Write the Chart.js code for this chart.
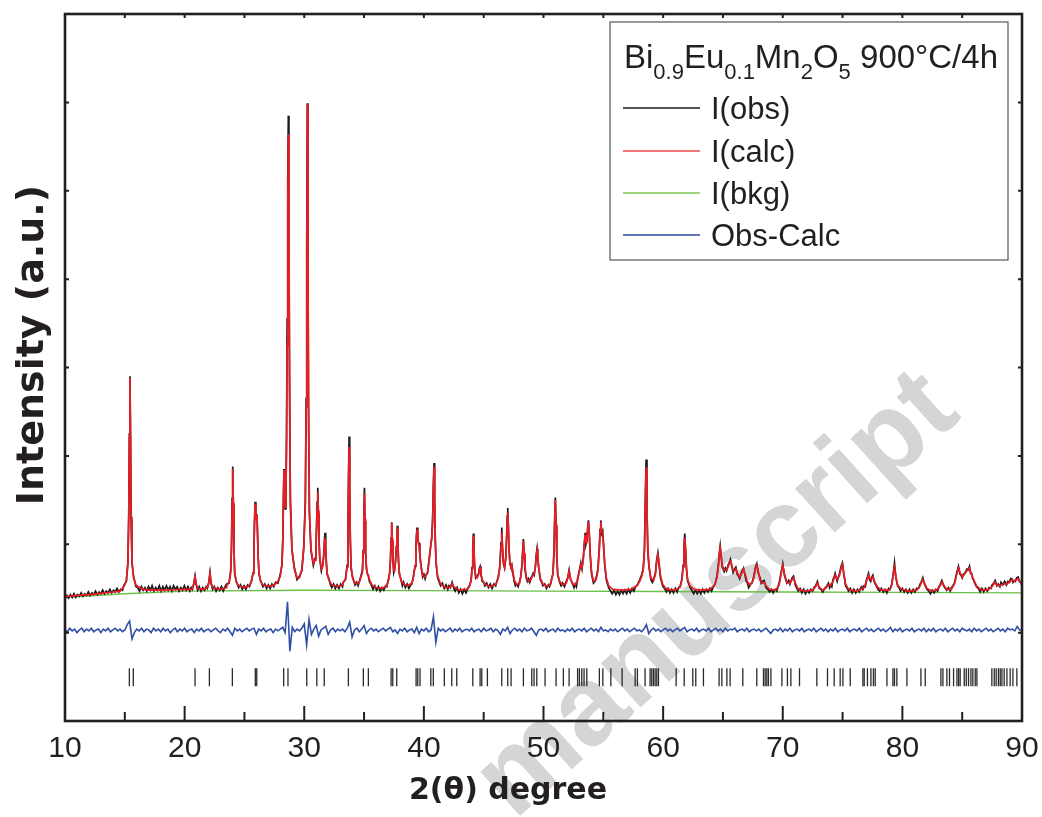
<!DOCTYPE html>
<html>
<head>
<meta charset="utf-8">
<script src="https://cdn.jsdelivr.net/npm/chart.js@4.4.1/dist/chart.umd.min.js"></script>
<style>
  html, body { margin: 0; padding: 0; background: #fff; }
  canvas { display: block; }
</style>
</head>
<body>
<canvas id="xrdChart" width="1042" height="817"></canvas>
<script>
// observed pattern, [2theta, intensity a.u.]
const obsPts = [
  [10,1.38],[10.15,1.42],[10.3,1.39],[10.45,1.43],[10.6,1.40],[10.75,1.44],[10.9,1.40],[11.05,1.43],[11.2,1.41],[11.35,1.45],
  [11.5,1.41],[11.65,1.44],[11.8,1.42],[11.95,1.46],[12.1,1.42],[12.25,1.45],[12.4,1.43],[12.55,1.47],[12.7,1.43],[12.85,1.46],
  [13.0,1.44],[13.15,1.48],[13.3,1.44],[13.45,1.47],[13.6,1.45],[13.75,1.49],[13.9,1.45],[14.05,1.48],[14.2,1.46],[14.35,1.50],
  [14.5,1.46],[14.65,1.49],[14.8,1.48],
  [14.93,1.54],[15.13,1.58],[15.26,1.80],[15.33,2.33],[15.38,3.25],[15.43,3.90],[15.48,3.18],[15.53,2.28],[15.60,1.79],[15.73,1.64],[15.93,1.52],
  [16.08,1.51],[16.23,1.47],[16.38,1.52],[16.53,1.48],[16.68,1.51],[16.83,1.47],[16.98,1.52],[17.13,1.48],[17.28,1.53],[17.43,1.47],
  [17.58,1.51],[17.73,1.48],[17.88,1.53],[18.03,1.47],[18.18,1.52],[18.33,1.48],[18.48,1.53],[18.63,1.48],[18.78,1.52],[18.93,1.47],
  [19.08,1.53],[19.23,1.49],[19.38,1.52],[19.53,1.47],[19.68,1.51],[19.83,1.48],[19.98,1.53],[20.13,1.48],[20.28,1.52],[20.43,1.47],[20.55,1.51],
  [20.65,1.49],[20.77,1.56],[20.87,1.64],[20.97,1.54],[21.09,1.48],
  [21.22,1.52],[21.37,1.47],[21.52,1.51],[21.67,1.48],[21.8,1.52],
  [21.9,1.50],[22.02,1.57],[22.12,1.68],[22.22,1.55],[22.34,1.49],
  [22.48,1.52],[22.63,1.47],[22.78,1.51],[22.93,1.48],[23.08,1.52],[23.23,1.47],[23.38,1.52],
  [23.52,1.55],[23.72,1.56],[23.85,1.70],[23.92,1.99],[23.97,2.52],[24.02,2.88],[24.07,2.45],[24.12,1.95],[24.19,1.66],[24.32,1.58],[24.52,1.51],
  [24.67,1.54],[24.82,1.49],[24.97,1.53],[25.12,1.49],[25.27,1.54],[25.42,1.52],
  [25.59,1.59],[25.72,1.67],[25.79,1.92],[25.84,2.24],[25.89,2.48],[25.95,2.30],[26.0,2.29],[26.05,2.34],[26.1,2.08],[26.15,1.84],
  [26.22,1.66],[26.35,1.59],[26.55,1.52],
  [26.7,1.55],[26.85,1.50],[27.0,1.54],[27.15,1.50],[27.3,1.55],[27.45,1.52],[27.6,1.57],[27.8,1.56],
  [28.0,1.66],[28.14,1.77],[28.21,2.07],[28.26,2.52],[28.31,2.85],[28.36,2.60],[28.41,2.40],[28.47,2.58],[28.52,3.25],[28.57,4.55],
  [28.62,6.10],[28.67,6.85],[28.72,5.45],[28.77,3.75],[28.84,2.45],[28.97,1.93],[29.17,1.74],[29.4,1.60],[29.6,1.64],
  [29.8,1.70],[29.96,1.97],[30.09,2.50],[30.16,3.65],[30.21,5.45],[30.26,6.99],[30.31,5.15],[30.36,3.45],[30.43,2.35],[30.56,1.93],
  [30.76,1.76],[30.9,1.84],
  [30.98,1.97],[31.03,2.22],[31.08,2.48],[31.13,2.64],[31.18,2.35],[31.23,2.05],[31.3,1.83],[31.43,1.70],[31.56,1.78],[31.64,1.91],
  [31.69,2.05],[31.74,2.13],[31.79,1.96],[31.84,1.80],[31.91,1.66],[32.04,1.62],[32.17,1.55],[32.3,1.51],[32.45,1.55],[32.6,1.50],
  [32.75,1.54],[32.9,1.50],[33.05,1.55],[33.2,1.52],
  [33.25,1.57],[33.45,1.60],[33.58,1.76],[33.65,2.12],[33.7,2.76],[33.75,3.22],[33.8,2.62],[33.85,2.04],[33.92,1.72],[34.05,1.62],
  [34.25,1.54],[34.38,1.57],[34.5,1.53],
  [34.63,1.59],[34.86,1.70],[34.93,1.93],[34.98,2.34],[35.03,2.64],[35.08,2.26],[35.13,1.90],[35.2,1.72],[35.28,1.67],[35.36,1.64],
  [35.45,1.58],[35.6,1.54],[35.75,1.49],[35.9,1.53],[36.05,1.48],[36.2,1.52],[36.35,1.47],[36.5,1.51],[36.65,1.48],[36.8,1.53],[36.9,1.52],
  [37.06,1.62],[37.14,1.67],[37.21,1.84],[37.26,2.07],[37.31,2.25],[37.36,2.04],[37.41,1.82],[37.48,1.68],[37.56,1.72],[37.63,1.81],
  [37.7,1.98],[37.74,2.10],[37.78,2.21],[37.83,2.01],[37.88,1.80],[37.95,1.66],[38.1,1.60],[38.2,1.53],[38.3,1.57],[38.45,1.51],
  [38.6,1.55],[38.75,1.50],[38.9,1.54],[39.0,1.55],
  [39.15,1.66],[39.26,1.75],[39.33,1.95],[39.38,2.10],[39.43,2.19],[39.49,2.06],[39.55,2.02],[39.6,2.01],[39.66,1.88],[39.75,1.77],
  [39.9,1.63],[40.0,1.66],[40.1,1.61],[40.2,1.66],[40.3,1.67],[40.42,1.81],[40.5,1.89],[40.58,2.00],[40.66,2.08],[40.73,2.28],
  [40.79,2.66],[40.85,2.92],[40.9,2.50],[40.95,2.05],[41.02,1.78],[41.15,1.62],[41.28,1.57],[41.4,1.53],[41.55,1.56],[41.7,1.50],
  [41.85,1.54],[42.0,1.49],[42.1,1.53],
  [42.22,1.51],[42.36,1.57],[42.5,1.50],
  [42.62,1.47],[42.77,1.51],[42.92,1.45],[43.07,1.49],[43.22,1.44],[43.37,1.49],[43.52,1.45],[43.67,1.50],
  [43.8,1.52],[43.95,1.60],[44.03,1.74],[44.09,1.96],[44.14,2.12],[44.19,1.92],[44.25,1.72],[44.33,1.62],[44.45,1.64],[44.58,1.67],
  [44.64,1.73],[44.7,1.75],[44.77,1.66],[44.88,1.58],[45.0,1.57],[45.1,1.53],[45.25,1.56],[45.4,1.51],[45.55,1.55],[45.7,1.50],
  [45.85,1.55],[46.0,1.53],[46.1,1.58],
  [46.22,1.63],[46.34,1.73],[46.45,2.02],[46.51,2.19],[46.57,1.96],[46.65,1.78],[46.75,1.73],[46.85,1.86],[46.93,2.14],[46.97,2.32],
  [47.01,2.41],[47.06,2.20],[47.12,1.93],[47.2,1.77],[47.28,1.75],[47.35,1.77],[47.43,1.68],[47.55,1.58],[47.65,1.53],[47.75,1.55],
  [47.88,1.52],[48.0,1.58],
  [48.1,1.63],[48.2,1.77],[48.26,1.92],[48.32,2.06],[48.38,1.88],[48.45,1.72],[48.56,1.62],[48.65,1.58],[48.75,1.61],[48.85,1.57],
  [48.95,1.62],[49.05,1.64],[49.13,1.67],[49.22,1.65],[49.32,1.75],[49.4,1.89],[49.46,1.95],[49.52,1.84],[49.6,1.73],[49.73,1.60],
  [49.85,1.57],[49.95,1.53],[50.1,1.55],[50.25,1.50],[50.4,1.54],[50.5,1.52],[50.6,1.56],
  [50.63,1.58],[50.79,1.67],[50.87,1.90],[50.93,2.27],[50.99,2.53],[51.05,2.20],[51.11,1.85],[51.19,1.65],[51.35,1.57],[51.47,1.53],
  [51.6,1.56],[51.75,1.52],
  [51.9,1.58],[52.02,1.62],[52.14,1.71],[52.26,1.60],[52.42,1.56],[52.55,1.51],[52.65,1.55],[52.75,1.52],[52.85,1.61],[52.98,1.69],
  [53.12,1.79],[53.22,1.72],[53.32,1.84],[53.41,2.00],[53.48,2.13],[53.55,2.00],[53.62,2.04],[53.69,2.18],[53.76,2.27],[53.83,2.10],
  [53.91,1.86],[54.02,1.66],[54.18,1.56],[54.3,1.58],[54.4,1.62],[54.55,1.72],[54.66,1.95],[54.73,2.17],[54.79,2.27],[54.86,2.12],
  [54.95,2.15],[55.03,1.96],[55.12,1.76],[55.25,1.60],[55.35,1.55],[55.45,1.51],[55.6,1.47],[55.75,1.44],[55.9,1.48],[56.05,1.43],
  [56.2,1.47],[56.35,1.43],[56.5,1.48],[56.65,1.44],[56.8,1.48],[56.95,1.44],[57.1,1.49],[57.25,1.45],[57.4,1.50],[57.55,1.47],
  [57.7,1.52],[57.85,1.54],[57.95,1.57],
  [58.05,1.60],[58.22,1.66],[58.34,1.73],[58.44,1.95],[58.51,2.52],[58.58,2.96],[58.65,2.35],[58.72,1.92],[58.82,1.74],[58.98,1.60],
  [59.1,1.57],[59.2,1.60],[59.36,1.68],[59.46,1.82],[59.56,1.90],[59.66,1.77],[59.78,1.62],[59.9,1.56],[59.98,1.52],[60.12,1.50],
  [60.27,1.46],[60.42,1.50],[60.57,1.45],[60.72,1.49],[60.87,1.45],[61.02,1.50],[61.17,1.46],[61.3,1.51],[61.45,1.53],
  [61.58,1.62],[61.67,1.76],[61.74,1.98],[61.81,2.12],[61.88,1.92],[61.95,1.72],[62.05,1.58],[62.15,1.55],[62.25,1.51],[62.4,1.48],
  [62.55,1.44],[62.7,1.48],[62.85,1.44],[63.0,1.48],[63.15,1.44],[63.3,1.49],[63.45,1.45],[63.6,1.49],[63.75,1.46],[63.9,1.50],
  [64.05,1.47],[64.2,1.52],[64.35,1.55],
  [64.5,1.64],[64.63,1.78],[64.7,1.90],[64.77,1.98],[64.85,1.86],[64.95,1.74],[65.1,1.69],[65.2,1.73],[65.3,1.70],[65.45,1.77],
  [65.55,1.80],[65.63,1.83],[65.72,1.76],[65.85,1.68],[65.98,1.72],[66.08,1.74],[66.2,1.66],[66.3,1.64],[66.4,1.61],[66.5,1.66],
  [66.58,1.69],[66.72,1.73],[66.86,1.64],[66.95,1.58],[67.05,1.56],[67.15,1.51],[67.3,1.55],[67.42,1.56],[67.55,1.62],[67.72,1.74],
  [67.83,1.78],[67.94,1.68],[68.1,1.62],[68.2,1.56],[68.3,1.58],[68.44,1.59],[68.6,1.51],[68.75,1.49],[68.9,1.46],[69.05,1.49],
  [69.2,1.45],[69.35,1.49],[69.5,1.47],[69.6,1.52],[69.7,1.56],
  [69.85,1.67],[70.0,1.78],[70.15,1.64],[70.25,1.60],[70.35,1.56],[70.5,1.59],[70.6,1.55],[70.78,1.62],[70.9,1.64],[71.05,1.54],
  [71.15,1.51],[71.3,1.47],[71.45,1.50],[71.6,1.45],[71.75,1.49],[71.9,1.44],[72.05,1.48],[72.2,1.45],[72.35,1.49],[72.5,1.47],
  [72.62,1.51],[72.75,1.53],[72.9,1.58],[73.05,1.50],[73.2,1.49],[73.35,1.46],[73.5,1.50],[73.65,1.52],[73.82,1.56],[73.92,1.51],
  [74.0,1.54],[74.1,1.52],[74.2,1.60],[74.3,1.63],[74.38,1.67],[74.47,1.62],[74.55,1.58],[74.65,1.63],[74.75,1.67],[74.88,1.75],
  [74.99,1.79],[75.1,1.66],[75.18,1.60],[75.25,1.53],[75.35,1.51],[75.5,1.47],[75.65,1.50],[75.8,1.45],[75.95,1.49],[76.1,1.45],
  [76.25,1.49],[76.4,1.46],[76.5,1.50],[76.61,1.52],[76.7,1.49],[76.8,1.53],[76.9,1.52],[77.0,1.60],[77.08,1.63],[77.17,1.67],
  [77.26,1.60],[77.35,1.58],[77.45,1.63],[77.53,1.65],[77.62,1.59],[77.7,1.56],[77.82,1.53],[77.95,1.49],[78.1,1.47],[78.25,1.50],
  [78.4,1.46],[78.55,1.49],[78.7,1.45],[78.85,1.50],[78.97,1.49],[79.1,1.54],[79.24,1.67],[79.34,1.79],[79.45,1.63],[79.6,1.53],
  [79.72,1.51],[79.85,1.47],[80.0,1.50],[80.15,1.46],[80.3,1.49],[80.45,1.45],[80.6,1.49],[80.75,1.45],[80.9,1.49],[81.05,1.46],
  [81.2,1.50],[81.35,1.50],[81.45,1.54],[81.6,1.58],[81.71,1.62],[81.85,1.55],[81.95,1.52],[82.05,1.49],[82.2,1.47],[82.35,1.44],
  [82.5,1.48],[82.65,1.45],[82.8,1.49],[82.95,1.47],[83.05,1.52],[83.15,1.54],[83.3,1.59],[83.45,1.53],[83.6,1.50],[83.7,1.48],
  [83.85,1.51],[84.0,1.47],[84.1,1.51],[84.22,1.53],[84.35,1.56],[84.45,1.62],[84.55,1.68],[84.69,1.75],[84.82,1.66],[84.9,1.65],
  [85.0,1.62],[85.1,1.66],[85.2,1.67],[85.3,1.69],[85.4,1.72],[85.5,1.71],[85.61,1.75],[85.7,1.67],[85.78,1.67],[85.88,1.61],
  [85.95,1.60],[86.05,1.56],[86.2,1.52],[86.35,1.50],[86.5,1.46],[86.65,1.50],[86.8,1.46],[86.95,1.50],[87.1,1.47],[87.25,1.51],
  [87.4,1.50],[87.5,1.54],[87.65,1.56],[87.76,1.59],[87.9,1.53],[88.0,1.55],[88.15,1.52],[88.25,1.57],[88.4,1.54],[88.55,1.58],
  [88.7,1.54],[88.82,1.58],[88.95,1.57],[89.05,1.61],[89.15,1.61],[89.25,1.57],[89.35,1.59],[89.45,1.58],[89.55,1.62],[89.68,1.63],
  [89.78,1.58],[89.88,1.57],[90,1.53]
];

// calculated (Rietveld fit)
const calcPts = [
  [10,1.41],[11,1.42],[12,1.43],[13,1.445],[14,1.46],[14.6,1.47],
  [14.93,1.52],[15.13,1.59],[15.26,1.78],[15.33,2.31],[15.38,3.21],[15.43,3.88],[15.48,3.21],[15.53,2.31],[15.60,1.80],[15.73,1.62],
  [15.93,1.54],[16.3,1.50],[17,1.48],[18,1.48],[19,1.485],[20,1.49],[20.6,1.49],
  [20.65,1.50],[20.77,1.55],[20.87,1.63],[20.97,1.55],[21.09,1.50],[21.6,1.49],
  [21.9,1.51],[22.02,1.56],[22.12,1.67],[22.22,1.56],[22.34,1.51],[23.0,1.49],[23.5,1.51],
  [23.52,1.53],[23.72,1.57],[23.85,1.68],[23.92,1.97],[23.97,2.47],[24.02,2.85],[24.07,2.47],[24.12,1.97],[24.19,1.68],[24.32,1.57],
  [24.52,1.53],[25.0,1.51],[25.4,1.53],
  [25.59,1.58],[25.72,1.68],[25.79,1.90],[25.84,2.22],[25.89,2.46],[25.95,2.32],[26.0,2.28],[26.05,2.33],[26.1,2.10],[26.15,1.85],
  [26.22,1.68],[26.35,1.58],[26.55,1.54],[27.0,1.52],[27.5,1.54],[27.8,1.58],
  [28.0,1.64],[28.14,1.78],[28.21,2.05],[28.26,2.50],[28.31,2.84],[28.36,2.62],[28.41,2.42],[28.47,2.55],[28.52,3.10],[28.57,4.25],
  [28.62,5.75],[28.67,6.64],[28.72,5.70],[28.77,4.00],[28.84,2.55],[28.97,1.95],[29.17,1.72],[29.4,1.62],[29.6,1.62],
  [29.8,1.72],[29.96,1.95],[30.09,2.45],[30.16,3.55],[30.21,5.30],[30.26,6.98],[30.31,5.30],[30.36,3.55],[30.43,2.40],[30.56,1.95],
  [30.76,1.78],[30.9,1.82],
  [30.98,1.95],[31.03,2.18],[31.08,2.42],[31.13,2.59],[31.18,2.38],[31.23,2.08],[31.3,1.85],[31.43,1.72],[31.56,1.76],[31.64,1.88],
  [31.69,2.00],[31.74,2.07],[31.79,1.98],[31.84,1.82],[31.91,1.68],[32.04,1.60],[32.3,1.54],[32.8,1.52],[33.2,1.54],
  [33.25,1.56],[33.45,1.61],[33.58,1.74],[33.65,2.08],[33.7,2.66],[33.75,3.10],[33.8,2.66],[33.85,2.08],[33.92,1.74],[34.05,1.61],
  [34.25,1.56],[34.5,1.55],
  [34.63,1.58],[34.86,1.68],[34.93,1.90],[34.98,2.29],[35.03,2.58],[35.08,2.29],[35.13,1.92],[35.2,1.74],[35.28,1.66],[35.36,1.65],
  [35.45,1.60],[35.65,1.54],[36.0,1.51],[36.5,1.50],[36.9,1.53],
  [37.06,1.60],[37.14,1.68],[37.21,1.82],[37.26,2.05],[37.31,2.24],[37.36,2.06],[37.41,1.84],[37.48,1.70],[37.56,1.70],[37.63,1.80],
  [37.7,1.96],[37.74,2.08],[37.78,2.19],[37.83,2.03],[37.88,1.82],[37.95,1.68],[38.1,1.58],[38.3,1.55],[38.6,1.53],[39.0,1.56],
  [39.15,1.64],[39.26,1.76],[39.33,1.93],[39.38,2.08],[39.43,2.17],[39.49,2.08],[39.55,2.00],[39.6,1.99],[39.66,1.90],[39.75,1.75],
  [39.9,1.65],[40.1,1.63],[40.3,1.68],[40.42,1.79],[40.5,1.90],[40.58,1.99],[40.66,2.06],[40.73,2.25],[40.79,2.60],[40.85,2.88],
  [40.9,2.55],[40.95,2.10],[41.02,1.80],[41.15,1.64],[41.4,1.55],[41.8,1.51],[42.1,1.51],
  [42.22,1.52],[42.36,1.555],[42.5,1.52],[43.0,1.48],[43.6,1.49],
  [43.8,1.53],[43.95,1.58],[44.03,1.72],[44.09,1.93],[44.14,2.10],[44.19,1.93],[44.25,1.74],[44.33,1.64],[44.45,1.62],[44.58,1.66],
  [44.64,1.71],[44.7,1.73],[44.77,1.67],[44.88,1.60],[45.1,1.55],[45.5,1.52],[46.0,1.54],
  [46.22,1.62],[46.34,1.74],[46.45,1.98],[46.51,2.13],[46.57,1.98],[46.65,1.80],[46.75,1.74],[46.85,1.84],[46.93,2.10],[46.97,2.27],
  [47.01,2.36],[47.06,2.22],[47.12,1.95],[47.2,1.78],[47.28,1.74],[47.35,1.75],[47.43,1.70],[47.55,1.60],[47.75,1.54],[48.0,1.56],
  [48.1,1.64],[48.2,1.75],[48.26,1.90],[48.32,2.04],[48.38,1.90],[48.45,1.74],[48.56,1.63],[48.75,1.58],[48.95,1.60],[49.05,1.63],
  [49.13,1.65],[49.22,1.66],[49.32,1.74],[49.4,1.87],[49.46,1.93],[49.52,1.86],[49.6,1.74],[49.73,1.62],[49.95,1.55],[50.3,1.52],[50.6,1.55],
  [50.63,1.57],[50.79,1.66],[50.87,1.87],[50.93,2.23],[50.99,2.50],[51.05,2.23],[51.11,1.87],[51.19,1.66],[51.35,1.58],[51.6,1.54],
  [51.9,1.56],[52.02,1.61],[52.14,1.69],[52.26,1.61],[52.42,1.55],[52.65,1.54],[52.85,1.59],[52.98,1.68],[53.12,1.77],[53.22,1.74],
  [53.32,1.82],[53.41,1.98],[53.48,2.11],[53.55,2.02],[53.62,2.02],[53.69,2.16],[53.76,2.25],[53.83,2.12],[53.91,1.88],[54.02,1.68],
  [54.18,1.58],[54.4,1.60],[54.55,1.70],[54.66,1.92],[54.73,2.14],[54.79,2.25],[54.86,2.14],[54.95,2.13],[55.03,1.98],[55.12,1.78],
  [55.25,1.62],[55.45,1.53],[55.8,1.49],[56.5,1.48],[57.3,1.49],[57.8,1.53],
  [58.05,1.58],[58.22,1.64],[58.34,1.72],[58.44,1.92],[58.51,2.42],[58.58,2.87],[58.65,2.42],[58.72,1.96],[58.82,1.75],[58.98,1.62],
  [59.2,1.59],[59.36,1.66],[59.46,1.80],[59.56,1.88],[59.66,1.79],[59.78,1.64],[59.98,1.54],[60.3,1.49],[61.0,1.48],[61.4,1.51],
  [61.58,1.60],[61.67,1.74],[61.74,1.94],[61.81,2.07],[61.88,1.94],[61.95,1.74],[62.05,1.60],[62.25,1.53],[62.6,1.49],[63.2,1.48],
  [63.9,1.49],[64.3,1.54],
  [64.5,1.62],[64.63,1.76],[64.7,1.88],[64.77,1.96],[64.85,1.88],[64.95,1.76],[65.1,1.71],[65.3,1.71],[65.45,1.75],[65.55,1.79],
  [65.63,1.81],[65.72,1.78],[65.85,1.70],[65.98,1.70],[66.08,1.72],[66.2,1.68],[66.4,1.63],[66.58,1.67],[66.72,1.72],[66.86,1.66],
  [67.05,1.57],[67.3,1.54],[67.55,1.60],[67.72,1.72],[67.83,1.76],[67.94,1.70],[68.1,1.60],[68.3,1.56],[68.44,1.57],[68.6,1.53],
  [68.9,1.49],[69.4,1.48],[69.7,1.54],
  [69.85,1.65],[70.0,1.76],[70.15,1.66],[70.35,1.57],[70.6,1.56],[70.78,1.60],[70.9,1.62],[71.05,1.56],[71.3,1.49],[71.8,1.47],
  [72.5,1.48],[72.75,1.52],[72.9,1.56],[73.05,1.51],[73.35,1.48],[73.65,1.51],[73.82,1.54],[74.0,1.53],[74.2,1.58],[74.38,1.65],
  [74.55,1.60],[74.75,1.65],[74.88,1.73],[74.99,1.77],[75.1,1.68],[75.25,1.55],[75.5,1.49],[76.0,1.47],[76.45,1.48],[76.61,1.50],
  [76.8,1.51],[77.0,1.58],[77.17,1.65],[77.35,1.60],[77.53,1.63],[77.7,1.57],[77.95,1.51],[78.3,1.48],[78.9,1.48],[79.1,1.53],
  [79.24,1.65],[79.34,1.74],[79.45,1.64],[79.6,1.54],[79.9,1.49],[80.5,1.47],[81.2,1.48],[81.45,1.52],[81.6,1.57],[81.71,1.60],
  [81.85,1.56],[82.05,1.50],[82.5,1.47],[82.95,1.49],[83.15,1.53],[83.3,1.57],[83.45,1.54],[83.7,1.49],[84.1,1.49],[84.35,1.55],
  [84.55,1.66],[84.69,1.73],[84.82,1.68],[85.0,1.63],[85.2,1.66],[85.4,1.70],[85.61,1.73],[85.78,1.66],[85.95,1.60],[86.2,1.53],
  [86.6,1.48],[87.2,1.49],[87.5,1.52],[87.65,1.55],[87.76,1.57],[87.9,1.54],[88.15,1.53],[88.4,1.55],[88.7,1.55],[88.95,1.57],
  [89.15,1.60],[89.35,1.58],[89.55,1.60],[89.68,1.61],[89.85,1.58],[90,1.54]
];

// background
const bkgPts = [
  [10,1.40],[15,1.44],[20,1.47],[30,1.48],[40,1.475],[50,1.47],[60,1.465],[70,1.46],[80,1.455],[90,1.45]
];

// obs - calc with offset, one value every 0.2 deg from 10 to 90
const diffStart = 10;
const diffStep = 0.2;
const diffVals = [
  1.03,1.01,1.05,1.02,1.04,1.00,1.03,1.05,1.01,1.04,  1.02,1.05,1.01,1.03,1.04,1.00,1.04,1.02,1.05,1.01,
  1.03,1.05,1.02,1.04,1.01,1.03,1.09,1.13,0.93,1.00,  1.04,1.02,1.05,1.01,1.04,1.03,1.00,1.05,1.02,1.04,
  1.01,1.05,1.02,1.04,1.00,1.03,1.05,1.01,1.04,1.02,  1.05,1.01,1.03,1.04,1.00,1.04,1.02,1.05,1.01,1.03,
  1.04,1.01,1.03,1.05,1.02,1.00,1.04,1.02,1.05,1.01,  0.97,1.05,1.02,1.04,1.01,1.03,1.05,1.02,1.04,1.05,
  0.98,1.04,1.02,1.05,1.01,1.03,1.04,1.00,1.04,1.02,  1.04,1.06,1.00,1.35,0.79,1.06,1.01,1.04,1.02,1.05,
  1.10,0.86,1.15,0.98,1.04,1.08,0.96,1.03,1.05,1.07,  0.98,1.03,1.05,1.01,1.04,1.02,1.04,1.01,1.05,1.12,
  0.95,1.03,1.05,1.01,1.04,1.08,0.99,1.03,1.05,1.02,  1.04,1.01,1.03,1.05,1.02,1.04,1.06,1.01,1.03,0.99,
  1.04,1.02,1.05,1.01,1.03,1.04,1.00,1.06,0.99,1.04,  1.02,1.05,1.01,1.03,1.18,0.89,1.05,1.02,1.04,1.01,
  1.03,1.05,1.01,1.04,1.02,1.05,1.01,1.03,1.04,1.02,  1.05,1.01,1.03,1.04,1.01,1.05,1.02,1.03,1.05,1.01,
  1.04,1.02,0.98,1.04,1.02,1.06,0.99,1.03,1.05,1.02,  1.04,1.01,1.05,1.02,1.03,1.05,1.01,0.97,1.03,1.04,
  1.02,1.05,1.01,1.03,1.04,1.01,1.05,1.02,1.03,1.01,  1.04,1.02,1.05,1.01,1.03,1.04,1.02,1.05,1.01,1.03,
  1.05,1.02,1.04,1.01,1.06,1.02,1.03,1.01,1.04,1.02,  1.04,1.01,1.03,1.05,1.02,1.04,1.01,1.03,1.05,1.02,
  1.03,1.01,1.04,1.09,0.99,1.03,1.05,1.02,1.04,1.01,  1.03,1.05,1.02,1.04,1.01,1.03,1.05,1.02,1.04,1.06,
  1.01,1.03,1.04,1.02,1.05,1.01,1.03,1.04,1.02,1.05,  1.01,1.03,1.05,1.02,1.04,1.01,1.05,1.02,1.04,1.03,
  1.05,1.01,1.03,1.04,1.02,1.05,1.01,1.03,1.04,1.02,  1.04,1.01,1.03,1.05,1.02,0.99,1.03,1.04,1.02,1.05,
  1.01,1.04,1.02,1.05,1.01,1.03,1.04,1.02,1.05,1.01,  1.03,1.04,1.02,1.05,1.01,1.03,1.05,1.02,1.04,1.01,
  1.04,1.02,1.05,1.01,1.03,1.04,1.02,1.05,1.01,1.03,  1.04,1.02,1.05,1.01,1.03,1.05,1.02,1.04,1.01,1.03,
  1.05,1.02,1.04,1.01,1.03,1.06,1.01,1.04,1.02,1.05,  1.01,1.03,1.04,1.02,1.05,1.01,1.03,1.04,1.02,1.05,
  1.01,1.04,1.02,1.05,1.01,1.03,1.04,1.02,1.05,1.01,  1.03,1.05,1.02,1.04,1.01,1.05,1.03,1.02,1.04,1.01,
  1.05,1.02,1.04,1.01,1.03,1.05,1.02,1.04,1.01,1.03,  1.05,1.02,1.04,1.01,1.05,1.03,1.04,1.02,1.07,1.03,
  1.03
];

// Bragg reflection positions
const reflections = [
  15.38,15.71,20.87,22.07,23.99,25.91,26.03,28.28,28.64,30.21,31.05,31.67,33.69,34.94,35.36,37.26,37.40,37.73,
  39.35,39.49,39.68,40.58,40.79,41.71,42.33,42.75,44.09,44.70,44.84,45.31,46.51,47.01,47.29,48.32,49.02,49.21,
  49.44,50.13,51.05,51.66,52.14,52.85,53.00,53.20,53.39,53.62,54.67,54.96,55.63,56.57,57.66,57.85,58.49,58.91,
  59.05,59.19,59.33,59.47,59.61,61.09,61.76,62.48,62.73,63.37,64.68,64.91,65.33,65.60,66.66,67.83,68.39,68.53,
  68.67,68.80,69.01,69.93,70.39,70.68,71.40,72.85,73.74,74.30,74.80,75.03,75.64,76.70,76.81,77.08,77.37,77.58,
  77.73,78.71,79.21,79.34,79.54,80.38,81.55,81.91,83.22,83.39,83.72,83.94,84.28,84.56,84.70,84.83,85.17,85.34,
  85.53,85.73,85.89,86.09,86.23,87.48,87.68,87.84,88.03,88.18,88.32,88.51,88.74,89.01,89.24,89.57
];
const reflectionLevel = 0.495;

const xMajorTicks = [10, 20, 30, 40, 50, 60, 70, 80, 90];
const xMinorTicks = [15, 25, 35, 45, 55, 65, 75, 85];
const yTicks = [1, 2, 3, 4, 5, 6, 7];

const legendLabels = ['I(obs)', 'I(calc)', 'I(bkg)', 'Obs-Calc'];
const legendColors = ['#1a1a1a', '#f0474d', '#7cc653', '#2f4aa0'];

const diffPts = diffVals.map((v, i) => [diffStart + i * diffStep, v]);
const reflPts = reflections.map(p => [p, reflectionLevel]);

const SANS = '"Liberation Sans", Arial, Helvetica, sans-serif';
const WIDE = '"DejaVu Sans", Verdana, sans-serif';

const decorPlugin = {
  id: 'decor',
  beforeDraw(chart) {
    const ctx = chart.ctx;
    ctx.save();
    ctx.fillStyle = '#ffffff';
    ctx.fillRect(0, 0, chart.width, chart.height);
    // watermark
    ctx.translate(718, 596);
    ctx.rotate(-42 * Math.PI / 180);
    ctx.font = 'bold 112px ' + SANS;
    ctx.fillStyle = '#d4d5d6';
    ctx.textAlign = 'center';
    ctx.textBaseline = 'middle';
    ctx.fillText('manuscript', 0, 0);
    ctx.restore();
  },
  afterDraw(chart) {
    const ctx = chart.ctx;
    const a = chart.chartArea;
    const xs = chart.scales.x, ys = chart.scales.y;
    ctx.save();
    ctx.strokeStyle = '#231f20';
    ctx.lineCap = 'butt';

    // ticks, pointing inward
    ctx.lineWidth = 2;
    ctx.beginPath();
    xMajorTicks.forEach(v => {
      const px = xs.getPixelForValue(v);
      ctx.moveTo(px, a.bottom); ctx.lineTo(px, a.bottom - 15);
      ctx.moveTo(px, a.top); ctx.lineTo(px, a.top + 4);
    });
    xMinorTicks.forEach(v => {
      const px = xs.getPixelForValue(v);
      ctx.moveTo(px, a.bottom); ctx.lineTo(px, a.bottom - 9);
      ctx.moveTo(px, a.top); ctx.lineTo(px, a.top + 4);
    });
    yTicks.forEach(v => {
      const py = ys.getPixelForValue(v);
      ctx.moveTo(a.left, py); ctx.lineTo(a.left + 4, py);
      ctx.moveTo(a.right, py); ctx.lineTo(a.right - 4, py);
    });
    ctx.stroke();

    // frame
    ctx.lineWidth = 2.6;
    ctx.strokeRect(a.left, a.top, a.right - a.left, a.bottom - a.top);

    // legend box
    const bx = 610, by = 22, bw = 398, bh = 238;
    ctx.fillStyle = '#ffffff';
    ctx.fillRect(bx, by, bw, bh);
    ctx.lineWidth = 1.2;
    ctx.strokeStyle = '#555555';
    ctx.strokeRect(bx, by, bw, bh);

    // legend title with subscripts
    const parts = [
      ['Bi', false], ['0.9', true], ['Eu', false], ['0.1', true], ['Mn', false],
      ['2', true], ['O', false], ['5', true], [' 900\u00B0C/4h', false]
    ];
    let tx = 624;
    ctx.fillStyle = '#231f20';
    ctx.textAlign = 'left';
    ctx.textBaseline = 'alphabetic';
    parts.forEach(([s, sub]) => {
      ctx.font = (sub ? '22px ' : '33px ') + SANS;
      ctx.fillText(s, tx, sub ? 79 : 68);
      tx += ctx.measureText(s).width;
    });

    // legend entries
    const rowY = [108, 151, 193, 235];
    ctx.font = '31px ' + SANS;
    ctx.textBaseline = 'middle';
    legendLabels.forEach((lab, i) => {
      ctx.strokeStyle = legendColors[i];
      ctx.lineWidth = 1.3;
      ctx.beginPath();
      ctx.moveTo(623, rowY[i]); ctx.lineTo(700, rowY[i]);
      ctx.stroke();
      ctx.fillStyle = '#231f20';
      ctx.fillText(lab, 711, rowY[i] + 2);
    });

    // axis titles
    ctx.fillStyle = '#231f20';
    ctx.font = 'bold 30px ' + WIDE;
    ctx.textAlign = 'center';
    ctx.textBaseline = 'alphabetic';
    ctx.fillText('2(\u03B8) degree', 508, 799);

    ctx.translate(43, 345);
    ctx.rotate(-Math.PI / 2);
    ctx.font = 'bold 38px ' + WIDE;
    ctx.textAlign = 'center';
    ctx.textBaseline = 'alphabetic';
    ctx.fillText('Intensity (a.u.)', 0, 0);
    ctx.restore();
  }
};

const ctx = document.getElementById('xrdChart').getContext('2d');
const chart = new Chart(ctx, {
  type: 'line',
  data: {
    datasets: [
      {
        label: 'I(calc)',
        data: calcPts,
        borderColor: '#ec1c24',
        borderWidth: 1.7,
        pointRadius: 0,
        tension: 0
      },
      {
        label: 'I(obs)',
        data: obsPts,
        borderColor: '#1a1a1a',
        borderWidth: 1.7,
        pointRadius: 0,
        tension: 0
      },
      {
        label: 'I(bkg)',
        data: bkgPts,
        borderColor: '#6cc04a',
        borderWidth: 1.4,
        pointRadius: 0,
        tension: 0
      },
      {
        label: 'Obs-Calc',
        data: diffPts,
        borderColor: '#2f4ea6',
        borderWidth: 1.6,
        pointRadius: 0,
        tension: 0
      },
      {
        label: 'reflections',
        data: reflPts,
        showLine: false,
        pointStyle: 'line',
        rotation: 90,
        pointRadius: 9,
        pointBorderWidth: 1.3,
        pointBorderColor: '#2a2a2a',
        pointBackgroundColor: '#2a2a2a'
      }
    ]
  },
  options: {
    responsive: false,
    devicePixelRatio: 1,
    animation: false,
    events: [],
    layout: { padding: { left: 65, right: 20, top: 14, bottom: 0 } },
    plugins: {
      legend: { display: false },
      tooltip: { enabled: false }
    },
    scales: {
      x: {
        type: 'linear',
        min: 10,
        max: 90,
        grid: { display: false, drawTicks: false },
        border: { display: false },
        ticks: {
          stepSize: 10,
          padding: 10,
          color: '#231f20',
          font: { family: SANS, size: 30 },
          maxRotation: 0
        },
        afterFit(scale) {
          scale.height = 96;
          scale.paddingLeft = 0;
          scale.paddingRight = 0;
        }
      },
      y: {
        type: 'linear',
        display: false,
        min: 0,
        max: 8
      }
    }
  },
  plugins: [decorPlugin]
});
</script>
</body>
</html>
